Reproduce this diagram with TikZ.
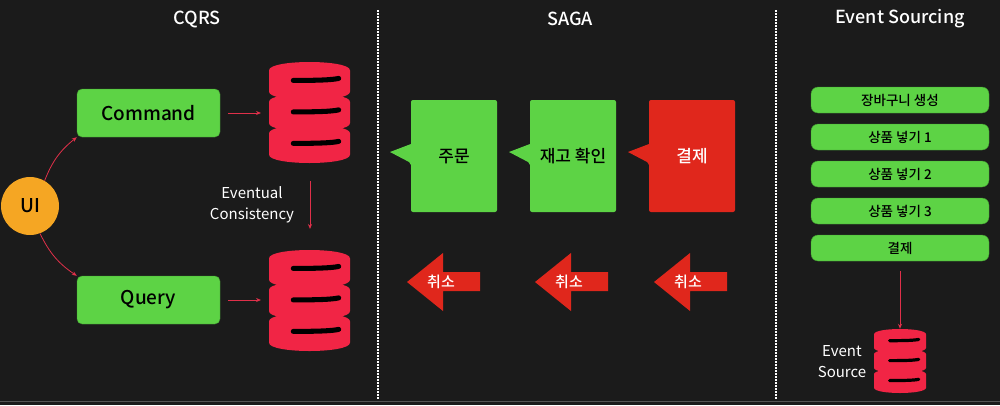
\documentclass[tikz,border=0pt]{standalone}
\usepackage{fontspec}
\setmainfont{Noto Sans CJK KR}
\newfontfamily\medfont{Noto Sans CJK KR Medium}
\usetikzlibrary{arrows.meta}
\definecolor{bg}{HTML}{1B1B1B}
\definecolor{grn}{HTML}{5DD345}
\definecolor{dbred}{HTML}{F12545}
\definecolor{sred}{HTML}{E0271C}
\definecolor{orng}{HTML}{F5A623}
\definecolor{arr}{HTML}{E0304A}
\tikzset{
  gbox/.style={fill=grn,draw=grn!70!black,rounded corners=5pt,inner sep=0pt,font=\medfont\fontsize{19}{19}\selectfont},
  ebox/.style={fill=grn,draw=grn!70!black,rounded corners=7pt,minimum width=178pt,minimum height=26pt,inner sep=0pt,font=\medfont\fontsize{13.5}{13.5}\selectfont},
  conn/.style={arr,line width=0.8pt,-{Stealth[length=5pt,width=4pt]}},
  hdr/.style={white,font=\medfont\fontsize{18}{18}\selectfont},
  lbl/.style={white,font=\fontsize{15}{21}\selectfont,align=center},
}
\newcommand\mydb[5]{% name, x, y(top), w, h
  \node[inner sep=0pt,minimum width=#4pt,minimum height=#5pt] (#1) at ({#2+#4/2},{#3+#5/2}) {};
  \pgfmathsetmacro\ry{#5*0.05}
  \foreach \i in {0,1,2}{
    \pgfmathsetmacro\yt{#3+\ry*0.65+\i*(#5-1.3*\ry)/3}
    \pgfmathsetmacro\yb{#3+\ry*0.65+(\i+1)*(#5-1.3*\ry)/3}
    \fill[dbred] (#2,\yt+\ry) .. controls (#2,\yt-\ry*1.2) and (#2+#4,\yt-\ry*1.2) .. (#2+#4,\yt+\ry)
      -- (#2+#4,\yb-\ry) .. controls (#2+#4,\yb+\ry*1.2) and (#2,\yb+\ry*1.2) .. (#2,\yb-\ry) -- cycle;
  }
  \foreach \i in {0,1,2}{
    \pgfmathsetmacro\yt{#3+\ry*0.65+\i*(#5-1.3*\ry)/3}
    \draw[black,line width={#5*0.05pt},line cap=round] ({#2+#4*0.3},{\yt+#5*0.15}) .. controls ({#2+#4*0.6},{\yt+#5*0.15}) and ({#2+#4*0.78},{\yt+#5*0.145}) .. ({#2+#4*0.86},{\yt+#5*0.13});
  }
}
\begin{document}
\begin{tikzpicture}[x=1pt,y=-1pt]
\fill[bg] (0,0) rectangle (1000,405);
\useasboundingbox (0,0) rectangle (1000,405);
\draw[white!25!bg,line width=1pt] (0,401) -- (1000,401);
\draw[white,line width=2pt,dash pattern=on 1.5pt off 1.5pt] (378,10) -- (378,400);
\draw[white,line width=2pt,dash pattern=on 1.5pt off 1.5pt] (776,10) -- (776,400);
\node[hdr] (h1) at (197,19) {CQRS};
\node[hdr] (h2) at (570,19) {SAGA};
\node[hdr] (h3) at (900,19) {Event Sourcing};
% CQRS
\node[circle,fill=orng,minimum size=58pt,inner sep=0pt,font=\medfont\fontsize{19}{19}\selectfont] (ui) at (30,206) {UI};
\node[gbox,minimum width=143pt,minimum height=48pt] (cmd) at (148.5,113) {Command};
\node[gbox,minimum width=143pt,minimum height=48pt] (qry) at (148.5,300) {Query};
\mydb{db1}{269}{62}{81}{101}
\mydb{db2}{269}{250}{81}{101}
\draw[conn] (ui.60) to[bend left=15] (cmd.south west);
\draw[conn] (ui.-70) to[bend right=15] (qry.north west);
\coordinate (c1) at (228,113); \coordinate (c2) at (261,113);
\draw[conn] (c1) -- (c2);
\coordinate (q1) at (228,300); \coordinate (q2) at (261,300);
\draw[conn] (q1) -- (q2);
\coordinate (v1) at (310,181); \coordinate (v2) at (310,229);
\draw[conn] (v1) -- (v2);
\node[lbl] (ec) at (252,205) {Eventual\\Consistency};
% SAGA
\foreach \n/\x/\c/\t/\tc in {s1/411/grn/주문/black, s2/530/grn/재고 확인/black, s3/649/sred/결제/white}{
  \fill[\c,rounded corners=2pt] (\x,100) -- (\x+86,100) -- (\x+86,212) -- (\x,212) -- (\x,163) [sharp corners] -- (\x-21,152) -- (\x,144) [rounded corners=2pt] -- cycle;
  \node[\tc,font=\medfont\fontsize{17}{17}\selectfont] (\n) at (\x+43,156) {\t};
}
\foreach \n/\x in {a1/407, a2/535, a3/654}{
  \fill[sred] (\x,282) -- (\x+36,253) -- (\x+36,272) -- (\x+73,272) -- (\x+73,291) -- (\x+36,291) -- (\x+36,311) -- cycle;
  \node[white,font=\medfont\fontsize{15}{15}\selectfont] (\n) at (\x+34,282) {취소};
}
% Event sourcing
\node[ebox] (e1) at (900,100) {장바구니 생성};
\node[ebox] (e2) at (900,137) {상품 넣기 1};
\node[ebox] (e3) at (900,174) {상품 넣기 2};
\node[ebox] (e4) at (900,211) {상품 넣기 3};
\node[ebox] (e5) at (900,248) {결제};
\mydb{db3}{874}{329}{52}{64}
\draw[conn] (e5.south) ++(0,10) coordinate (e5b) (e5b) -- (db3.north);
\node[lbl] (es) at (842,362) {Event\\Source};
\end{tikzpicture}
\end{document}
